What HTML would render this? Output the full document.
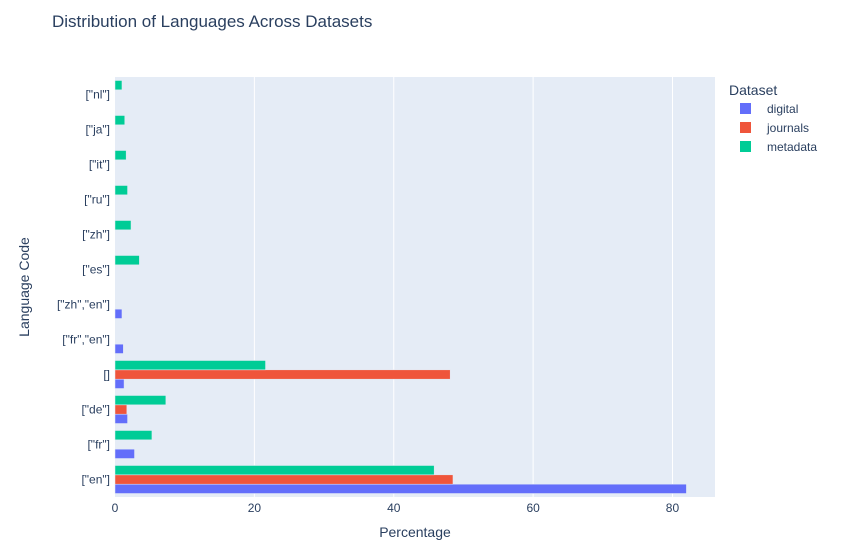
<!DOCTYPE html>
<html><head><meta charset="utf-8"><style>
body{margin:0;background:#fff;font-family:"Liberation Sans",sans-serif;}
svg text{font-family:"Liberation Sans",sans-serif;}
</style></head><body>
<svg id="chart" width="867" height="551">
<text x="52" y="27" font-size="17" fill="#2a3f5f">Distribution of Languages Across Datasets</text>
<rect x="115" y="77" width="600" height="420" fill="#e5ecf6"/>
<g id="grid"></g><g id="bars"></g><g id="ticks"></g>
<text x="415" y="537" font-size="14" fill="#2a3f5f" text-anchor="middle">Percentage</text>
<text x="29" y="287" font-size="14" fill="#2a3f5f" text-anchor="middle" transform="rotate(-90 29 287)">Language Code</text>
<g>
<text x="729" y="95" font-size="14" fill="#2a3f5f">Dataset</text>
<g><rect x="740" y="103" width="11" height="11" fill="#636efa"/><text x="767" y="113" font-size="12" fill="#2a3f5f">digital</text></g>
<g><rect x="740" y="122" width="11" height="11" fill="#ef553b"/><text x="767" y="132" font-size="12" fill="#2a3f5f">journals</text></g>
<g><rect x="740" y="141" width="11" height="11" fill="#00cc96"/><text x="767" y="151" font-size="12" fill="#2a3f5f">metadata</text></g>
</g>
</svg>
<script>
const categories=['["en"]','["fr"]','["de"]','[]','["fr","en"]','["zh","en"]','["es"]','["zh"]','["ru"]','["it"]','["ja"]','["nl"]'];
const digital=[82,2.8,1.8,1.3,1.2,1.0,0,0,0,0,0,0];
const journals=[48.5,0,1.7,48.1,0,0,0,0,0,0,0,0];
const metadata=[45.8,5.3,7.3,21.6,0,0,3.5,2.3,1.8,1.6,1.4,1.0];
const xTicks=[0,20,40,60,80];
const NS='http://www.w3.org/2000/svg';
const X0=115,X1=715,Y0=77,Y1=497,XMAX=86.1;
const xs=v=>X0+v/XMAX*(X1-X0);
const band=(Y1-Y0)/categories.length;
const yc=i=>Y1-band*(i+0.5);
function mk(t,a,p){const e=document.createElementNS(NS,t);for(const k in a)e.setAttribute(k,a[k]);p.appendChild(e);return e;}
const grid=document.getElementById('grid'),bars=document.getElementById('bars'),ticks=document.getElementById('ticks');
xTicks.forEach(t=>{
 if(t>0){const l=mk('line',{x1:xs(t),x2:xs(t),y1:Y0,y2:Y1,stroke:'#fff','stroke-width':1},grid);
 
 }
 const tx=mk('text',{x:xs(t),y:512,'font-size':12,fill:'#2a3f5f','text-anchor':'middle'},ticks);
 tx.textContent=t;
 
 
});
categories.forEach((c,i)=>{
 const tx=mk('text',{x:110,y:yc(i)+4,'font-size':12,fill:'#2a3f5f','text-anchor':'end'},ticks);
 tx.textContent=c;
 
 
});
const series=[[digital,'#636efa','digital'],[journals,'#ef553b','journals'],[metadata,'#00cc96','metadata']];
const gw=band*0.8,bw=gw/3;
categories.forEach((c,i)=>{
 series.forEach((s,j)=>{
  const v=s[0][i]; if(!v)return;
  const yb=yc(i)+gw/2-bw*(j+1);
  const r=mk('rect',{x:X0,y:yb,width:xs(v)-X0,height:bw,fill:s[1],stroke:'#e5ecf6','stroke-width':0.5},bars);
  
  
 });
});
</script>
</body></html>
